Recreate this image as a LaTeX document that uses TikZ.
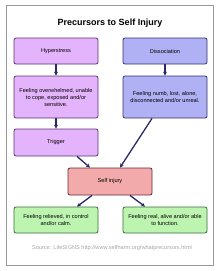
\documentclass[tikz,border=0pt]{standalone}
\usepackage{fontspec}
\setmainfont{Liberation Sans}
\usetikzlibrary{arrows.meta}
\definecolor{pfill}{HTML}{E3B3FB}
\definecolor{pdraw}{HTML}{5E3570}
\definecolor{bfill}{HTML}{B0B0F5}
\definecolor{bdraw}{HTML}{35356E}
\definecolor{rfill}{HTML}{F2AAAA}
\definecolor{rdraw}{HTML}{66293A}
\definecolor{gfill}{HTML}{BDF5B0}
\definecolor{gdraw}{HTML}{3D6B3D}
\definecolor{arr}{HTML}{2A2A66}
\begin{document}
\begin{tikzpicture}[x=1pt,y=-1pt,
  box/.style={draw, rounded corners=2pt, line width=0.8pt, minimum width=84pt, align=center, font=\fontsize{5.6}{7}\selectfont, inner sep=1pt},
  pbox/.style={box, fill=pfill, draw=pdraw},
  bbox/.style={box, fill=bfill, draw=bdraw},
  rbox/.style={box, fill=rfill, draw=rdraw},
  gbox/.style={box, fill=gfill, draw=gdraw},
  conn/.style={draw=arr, line width=1.3pt, -{Stealth[length=4pt,width=4pt]}}]
\useasboundingbox (0,0) rectangle (220,271);
\fill[white] (0,0) rectangle (220,271);
\draw[gray!80, line width=0.8pt] (6,5) rectangle (213,265);
\node[font=\bfseries\fontsize{9}{10}\selectfont] (title) at (110,23) {Precursors to Self Injury};
\node[pbox, minimum height=26pt] (hyper) at (56,51) {Hyperstress};
\node[bbox, minimum height=26pt] (disso) at (165,51) {Dissociation};
\node[pbox, minimum height=42pt] (over) at (56,97) {Feeling overwhelmed, unable\\to cope, exposed and/or\\sensitive.};
\node[bbox, minimum height=42pt] (numb) at (165,97) {Feeling numb, lost, alone,\\disconnected and/or unreal.};
\node[pbox, minimum height=27pt] (trig) at (56,142.5) {Trigger};
\node[rbox, minimum height=27pt] (self) at (110,181.5) {Self injury};
\node[gbox, minimum height=26pt] (rel) at (56,220) {Feeling relieved, in control\\and/or calm.};
\node[gbox, minimum height=26pt] (real) at (165,220) {Feeling real, alive and/or able\\to function.};
\node[font=\fontsize{5.6}{6.5}\selectfont, text=gray!70] (src) at (112,248) {Source: LifeSIGNS http://www.selfharm.org/whatprecursors.html};
\draw[conn] (hyper.south) -- (over.north);
\draw[conn] (disso.south) -- (numb.north);
\draw[conn] (over.south) -- (trig.north);
\draw[conn] (trig.south -| 77,0) -- (self.north -| 90,0);
\draw[conn] (numb.south -| 152,0) -- (self.north -| 120,0);
\draw[conn] (self.south -| 92,0) -- (rel.north -| 77,0);
\draw[conn] (self.south -| 130,0) -- (real.north -| 145,0);
\end{tikzpicture}
\end{document}
